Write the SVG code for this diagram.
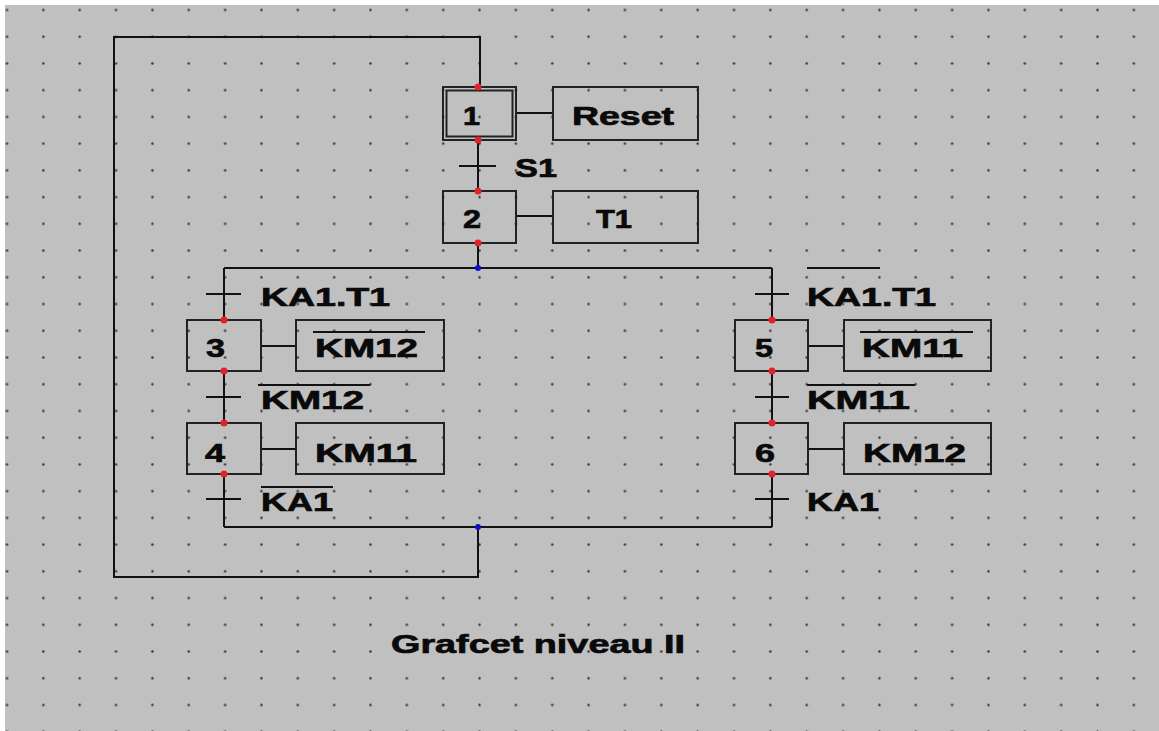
<svg xmlns="http://www.w3.org/2000/svg" width="1159" height="731" viewBox="0 0 1159 731">
<defs>
<pattern id="grid" patternUnits="userSpaceOnUse" x="-11.175" y="-3.365" width="36.35" height="26.73">
<circle cx="18.175" cy="13.365" r="1.2" fill="#333333"/>
</pattern>
<style>
.ln{stroke:#111;stroke-width:2;fill:none}
.box{stroke:#222;stroke-width:2;fill:none}
.tx{font-family:"Liberation Sans",Arial,sans-serif;font-weight:bold;font-size:26px;fill:#0a0a0a;stroke:#0a0a0a;stroke-width:0.7}
.red{fill:#e0222a}
.blue{fill:#1010c8}
</style>
</defs>
<rect x="0" y="0" width="1159" height="731" fill="#ffffff"/>
<rect x="5" y="5" width="1154" height="726" fill="#c0c0c0"/>
<rect x="5" y="5" width="1154" height="726" fill="url(#grid)"/>

<g id="connectors">
<polyline class="ln" points="480,87 480,37 114,37 114,577 478,577 478,527"/>
<line class="ln" x1="478" y1="140" x2="478" y2="191"/>
<line class="ln" x1="478" y1="243" x2="478" y2="268"/>
<line class="ln" x1="224" y1="268" x2="772" y2="268"/>
<line class="ln" x1="224" y1="268" x2="224" y2="320"/>
<line class="ln" x1="224" y1="371" x2="224" y2="423"/>
<line class="ln" x1="224" y1="474" x2="224" y2="527"/>
<line class="ln" x1="772" y1="268" x2="772" y2="320"/>
<line class="ln" x1="772" y1="371" x2="772" y2="423"/>
<line class="ln" x1="772" y1="474" x2="772" y2="527"/>
<line class="ln" x1="224" y1="527" x2="772" y2="527"/>
<line class="ln" x1="516" y1="113" x2="553" y2="113"/>
<line class="ln" x1="516" y1="216" x2="553" y2="216"/>
<line class="ln" x1="261" y1="346" x2="296" y2="346"/>
<line class="ln" x1="261" y1="449" x2="296" y2="449"/>
<line class="ln" x1="808" y1="346" x2="844" y2="346"/>
<line class="ln" x1="808" y1="449" x2="844" y2="449"/>
<line class="ln" x1="459" y1="166" x2="496" y2="166"/>
<line class="ln" x1="206" y1="294" x2="241" y2="294"/>
<line class="ln" x1="206" y1="397" x2="241" y2="397"/>
<line class="ln" x1="206" y1="499" x2="241" y2="499"/>
<line class="ln" x1="755" y1="294" x2="789" y2="294"/>
<line class="ln" x1="755" y1="397" x2="789" y2="397"/>
<line class="ln" x1="755" y1="499" x2="789" y2="499"/>
<circle class="blue" cx="478" cy="268" r="3"/>
<circle class="blue" cx="478" cy="527" r="3"/>
</g>

<g id="step1">
<rect class="box" x="443" y="87" width="73" height="53"/>
<rect class="box" x="446.5" y="90.5" width="66" height="46" stroke-width="1.5"/>
<text class="tx" x="463" y="125" textLength="17" lengthAdjust="spacingAndGlyphs">1</text>
<circle class="red" cx="478" cy="87" r="3.5"/>
<circle class="red" cx="478" cy="140" r="3.5"/>
</g>
<g id="action1">
<rect class="box" x="553" y="87" width="145" height="53"/>
<text class="tx" x="572" y="125" textLength="102" lengthAdjust="spacingAndGlyphs">Reset</text>
</g>
<g id="trans-S1">
<text class="tx" x="515" y="177" textLength="42" lengthAdjust="spacingAndGlyphs">S1</text>
</g>
<g id="step2">
<rect class="box" x="443" y="191" width="73" height="52"/>
<text class="tx" x="463" y="228" textLength="18" lengthAdjust="spacingAndGlyphs">2</text>
<circle class="red" cx="478" cy="191" r="3.5"/>
<circle class="red" cx="478" cy="243" r="3.5"/>
</g>
<g id="action2">
<rect class="box" x="553" y="191" width="145" height="52"/>
<text class="tx" x="596" y="228" textLength="36" lengthAdjust="spacingAndGlyphs">T1</text>
</g>

<g id="trans-left1">
<text class="tx" x="261" y="306" textLength="129" lengthAdjust="spacingAndGlyphs">KA1.T1</text>
</g>
<g id="step3">
<rect class="box" x="187" y="320" width="74" height="51"/>
<text class="tx" x="206" y="357" textLength="19" lengthAdjust="spacingAndGlyphs">3</text>
<circle class="red" cx="224" cy="320" r="3.5"/>
<circle class="red" cx="224" cy="371" r="3.5"/>
</g>
<g id="action3">
<rect class="box" x="296" y="320" width="148" height="51"/>
<text class="tx" x="315" y="357" textLength="103" lengthAdjust="spacingAndGlyphs">KM12</text>
<line class="ln" x1="313" y1="332" x2="425" y2="332"/>
</g>
<g id="trans-left2">
<text class="tx" x="261" y="409" textLength="103" lengthAdjust="spacingAndGlyphs">KM12</text>
<line class="ln" x1="258" y1="385" x2="370" y2="385"/>
</g>
<g id="step4">
<rect class="box" x="187" y="423" width="74" height="51"/>
<text class="tx" x="205" y="462" textLength="20" lengthAdjust="spacingAndGlyphs">4</text>
<circle class="red" cx="224" cy="423" r="3.5"/>
<circle class="red" cx="224" cy="474" r="3.5"/>
</g>
<g id="action4">
<rect class="box" x="296" y="423" width="148" height="51"/>
<text class="tx" x="315" y="462" textLength="102" lengthAdjust="spacingAndGlyphs">KM11</text>
</g>
<g id="trans-left3">
<text class="tx" x="261" y="511" textLength="72" lengthAdjust="spacingAndGlyphs">KA1</text>
<line class="ln" x1="261" y1="487" x2="333" y2="487"/>
</g>

<g id="trans-right1">
<text class="tx" x="807" y="306" textLength="129" lengthAdjust="spacingAndGlyphs">KA1.T1</text>
<line class="ln" x1="807" y1="268" x2="880" y2="268"/>
</g>
<g id="step5">
<rect class="box" x="735" y="320" width="73" height="51"/>
<text class="tx" x="755" y="357" textLength="18" lengthAdjust="spacingAndGlyphs">5</text>
<circle class="red" cx="772" cy="320" r="3.5"/>
<circle class="red" cx="772" cy="371" r="3.5"/>
</g>
<g id="action5">
<rect class="box" x="844" y="320" width="147" height="51"/>
<text class="tx" x="862" y="357" textLength="101" lengthAdjust="spacingAndGlyphs">KM11</text>
<line class="ln" x1="860" y1="332" x2="973" y2="332"/>
</g>
<g id="trans-right2">
<text class="tx" x="807" y="409" textLength="103" lengthAdjust="spacingAndGlyphs">KM11</text>
<line class="ln" x1="807" y1="385" x2="915" y2="385"/>
</g>
<g id="step6">
<rect class="box" x="735" y="423" width="73" height="51"/>
<text class="tx" x="755" y="462" textLength="20" lengthAdjust="spacingAndGlyphs">6</text>
<circle class="red" cx="772" cy="423" r="3.5"/>
<circle class="red" cx="772" cy="474" r="3.5"/>
</g>
<g id="action6">
<rect class="box" x="844" y="423" width="147" height="51"/>
<text class="tx" x="863" y="462" textLength="103" lengthAdjust="spacingAndGlyphs">KM12</text>
</g>
<g id="trans-right3">
<text class="tx" x="807" y="511" textLength="72" lengthAdjust="spacingAndGlyphs">KA1</text>
</g>

<g id="title">
<text class="tx" x="391" y="653" textLength="294" lengthAdjust="spacingAndGlyphs">Grafcet niveau II</text>
</g>
</svg>
